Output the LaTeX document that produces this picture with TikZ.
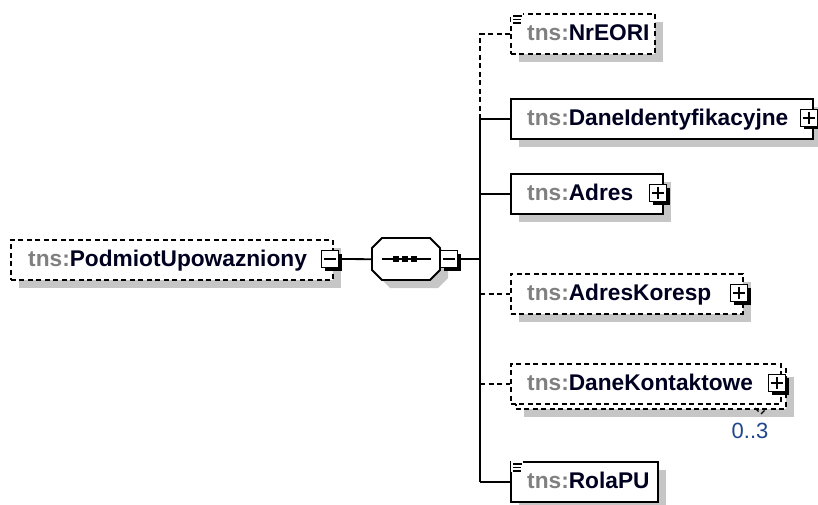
\documentclass[tikz,border=0pt]{standalone}
\usepackage{fontspec}
\setmainfont{Liberation Sans}
\usetikzlibrary{shadows}
\definecolor{shadowgray}{RGB}{198,198,198}
\definecolor{prefixgray}{RGB}{128,128,128}
\definecolor{namecol}{RGB}{0,0,32}
\definecolor{occcol}{RGB}{30,70,140}
\newcommand{\tnsname}[1]{\textcolor{prefixgray}{tns:}\textcolor{namecol}{#1}}
\tikzset{
  elem/.style={draw=black, line width=1.8pt, fill=white, anchor=north west, inner sep=0pt,
    drop shadow={shadow xshift=8pt, shadow yshift=-8pt, fill=shadowgray, opacity=1}},
  elemns/.style={draw=black, line width=1.8pt, fill=white, anchor=north west, inner sep=0pt},
  optln/.style={dash pattern=on 5pt off 3.5pt},
  lbl/.style={anchor=base west, inner sep=0pt, font=\fontsize{22.7}{25}\selectfont\bfseries},
  occ/.style={anchor=base, inner sep=0pt, font=\fontsize{22}{25}\selectfont, text=occcol},
  conn/.style={line width=1.8pt},
  pmbox/.style={draw=black, line width=1.6pt, fill=white, minimum size=17pt, inner sep=0pt,
    drop shadow={shadow xshift=3pt, shadow yshift=-3pt, fill=black, opacity=1}},
  sign/.style={line width=1.6pt},
  icon/.style={line width=1.5pt},
}
\begin{document}
\begin{tikzpicture}[x=1pt,y=-1pt]
\useasboundingbox (0,0) rectangle (818,505);
% bus coordinate
\coordinate (bus) at (480,0);
% root element
\node[elem, optln, minimum width=322pt, minimum height=40pt] (root) at (10,239) {};
\node[lbl] (rootlbl) at (28,266.5) {\tnsname{PodmiotUpowazniony}};
\node[pmbox] (rootm) at (330,259) {};
\draw[sign] ([xshift=-6pt]rootm.center) -- ([xshift=6pt]rootm.center);
% sequence compositor
\node[minimum width=68pt, minimum height=42pt, anchor=north west, inner sep=0pt] (seq) at (372,238) {};
\fill[shadowgray] (390,246) -- (438,246) -- (448,256) -- (448,278) -- (438,288) -- (390,288) -- (380,278) -- (380,256) -- cycle;
\draw[conn, fill=white] (382,238) -- (430,238) -- (440,248) -- (440,270) -- (430,280) -- (382,280) -- (372,270) -- (372,248) -- cycle;
\draw[conn] (382,259) -- (431,259);
\foreach \dx in {396,405,414} \fill (\dx-3,256) rectangle (\dx+3,262);
\node[pmbox] (seqm) at (449,259) {};
\draw[sign] ([xshift=-6pt]seqm.center) -- ([xshift=6pt]seqm.center);
\draw[conn] (rootm.east) -- (seq.west);
% children
\node[elem, optln, minimum width=144pt, minimum height=40pt] (c1) at (510,13) {};
\node[lbl] (c1lbl) at (527,40.5) {\tnsname{NrEORI}};
\node[elem, minimum width=302pt, minimum height=40pt] (c2) at (510,98) {};
\node[lbl] (c2lbl) at (527,125.5) {\tnsname{DaneIdentyfikacyjne}};
\node[pmbox] (c2p) at (809,118) {};
\node[elem, minimum width=152pt, minimum height=40pt] (c3) at (510,173) {};
\node[lbl] (c3lbl) at (527,200.5) {\tnsname{Adres}};
\node[pmbox] (c3p) at (658,193) {};
\node[elem, optln, minimum width=232pt, minimum height=40pt] (c4) at (510,273) {};
\node[lbl] (c4lbl) at (527,300.5) {\tnsname{AdresKoresp}};
\node[pmbox] (c4p) at (739,293) {};
\node[elem, optln, minimum width=270pt, minimum height=40pt] (c5b) at (515,368) {};
\node[elemns, optln, minimum width=270pt, minimum height=40pt] (c5) at (510,363) {};
\node[lbl] (c5lbl) at (527,390.5) {\tnsname{DaneKontaktowe}};
\node[pmbox] (c5p) at (777,383) {};
\draw[line width=1.3pt, optln] (755,408) -- (761,414) -- (767,408);
\node[occ] (c5occ) at (750,438) {0..3};
\node[elem, minimum width=147pt, minimum height=40pt] (c6) at (510,461) {};
\node[lbl] (c6lbl) at (527,488.5) {\tnsname{RolaPU}};
% plus signs
\foreach \n in {c2p,c3p,c4p,c5p} {
  \draw[sign] ([xshift=-6pt]\n.center) -- ([xshift=6pt]\n.center);
  \draw[sign] ([yshift=-6pt]\n.center) -- ([yshift=6pt]\n.center);
}
% simple-type icons
\foreach \n in {c1,c6} {
  \fill[white] ([shift={(1,-1)}]\n.north west) rectangle ([shift={(13,11)}]\n.north west);
  \draw[icon] ([shift={(3,3)}]\n.north west) -- ([shift={(12,3)}]\n.north west);
  \draw[icon] ([shift={(3,6.5)}]\n.north west) -- ([shift={(11,6.5)}]\n.north west);
  \draw[icon] ([shift={(3,10)}]\n.north west) -- ([shift={(11,10)}]\n.north west);
}
% connectors
\draw[conn] (seqm.east) -- (seqm.east -| bus);
\draw[conn, optln] (c1.west) -- (c1.west -| bus) -- (c2.west -| bus);
\draw[conn] (c2.west -| bus) -- (c6.west -| bus);
\draw[conn] (c2.west -| bus) -- (c2.west);
\draw[conn] (c3.west -| bus) -- (c3.west);
\draw[conn, optln] (c4.west -| bus) -- (c4.west);
\draw[conn, optln] (c5.west -| bus) -- (c5.west);
\draw[conn] (c6.west -| bus) -- (c6.west);
\end{tikzpicture}
\end{document}
